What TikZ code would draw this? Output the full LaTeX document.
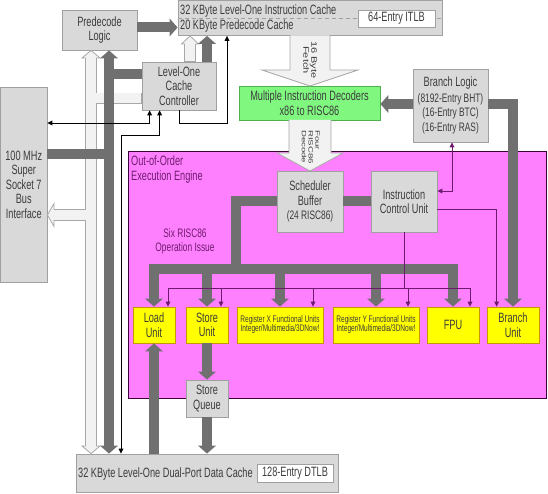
\documentclass[tikz,border=0pt]{standalone}
\usepackage{graphicx}
\usepackage{fontspec}
\setmainfont{Liberation Sans}[FakeStretch=0.68]
\newfontfamily\plainsans{Liberation Sans}
\usetikzlibrary{arrows.meta}
\definecolor{boxfill}{HTML}{D9D9D9}
\definecolor{boxline}{HTML}{A0A0A0}
\definecolor{txt}{HTML}{3C3C3C}
\definecolor{dk}{HTML}{707070}
\definecolor{lt}{HTML}{F2F2F2}
\definecolor{ltline}{HTML}{A8A8A8}
\definecolor{pinkfill}{HTML}{FF80FF}
\definecolor{pinkline}{HTML}{3A003A}
\definecolor{purp}{HTML}{6E1A6E}
\definecolor{yel}{HTML}{FFFF00}
\definecolor{yelline}{HTML}{C89600}
\definecolor{grn}{HTML}{80F880}
\definecolor{grnline}{HTML}{50B050}
\newcommand\blfont{\fontsize{12.3}{10.5}\selectfont}
\begin{document}
\begin{tikzpicture}[x=1pt,y=-1pt,
  every node/.style={text=txt, font=\fontsize{13.5}{14.5}\selectfont, align=center, inner sep=0pt},
  gbox/.style={draw=boxline, fill=boxfill, line width=0.8pt},
  ybox/.style={draw=yelline, fill=yel, line width=0.8pt, minimum height=36pt},
  wbox/.style={draw=boxline, fill=white, line width=0.8pt},
  dtip/.tip={Triangle[width=18pt,length=8pt,line width=0pt]},
  stip/.tip={Triangle[width=5pt,length=5pt,line width=0pt]},
  bus/.style={draw=dk, line width=10pt, line join=miter, -dtip},
  busline/.style={draw=dk, line width=10pt, line join=miter},
  busboth/.style={draw=dk, line width=10pt, line join=miter, dtip-dtip},
  lo/.style={draw=ltline, line width=11.6pt},
  li/.style={draw=lt, line width=10pt},
  lhead/.style={fill=lt, draw=ltline, line width=0.8pt, line join=miter},
  blockarrow/.style={fill=lt, draw=ltline, line width=0.8pt, line join=miter},
  sig/.style={draw=black, line width=0.7pt, -stip},
  sigboth/.style={draw=black, line width=0.7pt, stip-stip},
  psig/.style={draw=purp, line width=0.7pt, -stip},
  psigboth/.style={draw=purp, line width=0.7pt, stip-stip},
  pline/.style={draw=purp, line width=0.7pt},
  rottext/.style={rotate=-90, font=\plainsans\fontsize{11}{11}\selectfont}
]
\useasboundingbox (0,0) rectangle (548,494);

% execution engine background
\node[draw=pinkline, fill=pinkfill, line width=1pt, minimum width=418pt, minimum height=246pt] (ooo) at (337,275) {};
\node[text=purp, align=left, anchor=west] (oootxt) at (131,169.5) {Out-of-Order\\Execution Engine};
\node[text=purp, font=\fontsize{12.3}{14}\selectfont] (six) at (185,241) {Six RISC86\\Operation Issue};

% boxes
\node[gbox, minimum width=75pt, minimum height=40pt] (pre) at (99.5,30) {Predecode\\Logic};
\node[gbox, minimum width=264pt, minimum height=35pt] (icache) at (310,18) {};
\draw[boxline, line width=0.8pt, dash pattern=on 4pt off 3pt] (icache.west |- 0,18.5) -- (icache.east |- 0,18.5);
\node[anchor=base west] (ic1) at (180,15) {32 KByte Level-One Instruction Cache};
\node[anchor=base west] (ic2) at (180,29.5) {20 KByte Predecode Cache};
\node[wbox, minimum width=77pt, minimum height=17pt] (itlb) at (396.5,18.5) {64-Entry ITLB};
\node[gbox, minimum width=74pt, minimum height=48pt] (l1c) at (179,86) {Level-One\\Cache\\Controller};
\node[gbox, minimum width=46.5pt, minimum height=195pt] (bus) at (23.75,184.5) {100 MHz\\Super\\Socket 7\\Bus\\Interface};
\node[draw=grnline, fill=grn, line width=0.8pt, minimum width=141pt, minimum height=34pt] (dec) at (309.5,103) {Multiple Instruction Decoders\\x86 to RISC86};
\node[gbox, minimum width=75pt, minimum height=73pt] (blog) at (450.5,105.5) {Branch Logic\\[1pt]\blfont (8192-Entry BHT)\\\blfont (16-Entry BTC)\\\blfont (16-Entry RAS)};
\node[gbox, minimum width=66pt, minimum height=61pt] (sched) at (310,201.5) {Scheduler\\Buffer\\\fontsize{12.3}{14}\selectfont (24 RISC86)};
\node[gbox, minimum width=66pt, minimum height=61pt] (icu) at (404,201.5) {Instruction\\Control Unit};

\node[ybox, minimum width=42pt] (load) at (154,325) {Load\\Unit};
\node[ybox, minimum width=42pt] (store) at (207,325) {Store\\Unit};
\node[ybox, minimum width=86pt, font=\fontsize{9.6}{9}\selectfont] (regx) at (280,325) {Register X Functional Units\\Integer/Multimedia/3DNow!};
\node[ybox, minimum width=86pt, font=\fontsize{9.6}{9}\selectfont] (regy) at (376,325) {Register Y Functional Units\\Integer/Multimedia/3DNow!};
\node[ybox, minimum width=52pt] (fpu) at (453,325) {FPU};
\node[ybox, minimum width=52pt] (bu) at (513,325) {Branch\\Unit};

\node[gbox, minimum width=42pt, minimum height=37pt] (sq) at (207,398.5) {Store\\Queue};
\node[gbox, minimum width=262pt, minimum height=38pt] (dcache) at (207,473) {};
\node[anchor=west] (dct) at (78,474) {32 KByte Level-One Dual-Port Data Cache};
\node[wbox, minimum width=76pt, minimum height=18pt] (dtlb) at (295,473) {128-Entry DTLB};

% block arrows: fetch and decode
\filldraw[blockarrow] (290,35.5) -- (290,70) -- (262,70) -- (310,86) -- (358,70) -- (330,70) -- (330,35.5);
\node[rottext] (fetchtxt) at (309,60) {\scalebox{1}[0.72]{\begin{tabular}{@{}c@{}}16 Byte\\Fetch\end{tabular}}};
\filldraw[blockarrow] (289,120) -- (289,153) -- (277,153) -- (310,171) -- (343,153) -- (331,153) -- (331,120);
\node[rottext, anchor=west, font=\plainsans\fontsize{9.6}{10.5}\selectfont] (dectxt) at (310,130) {\scalebox{1}[0.65]{\begin{tabular}{@{}l@{}}Four\\RISC86\\Decode\end{tabular}}};

% light (hollow) bus network
\coordinate (lv1) at (91,57.5);
\coordinate (lv2) at (91,446.5);
\coordinate (lh1) at (91,98.5);
\coordinate (lh2) at (91,215);
\draw[lo] (lv1) -- (lv2);
\draw[lo] (lh1) -- (lh1 -| l1c.west);
\draw[lo] (lh2) -- (54,215);
\draw[lo] (190,62) -- (190,44);
\filldraw[lhead] (82,58) -- (pre.south -| 91,0) -- (100,58) -- cycle;
\filldraw[lhead] (82,446) -- (dcache.north -| 91,0) -- (100,446) -- cycle;
\filldraw[lhead] (54,203.5) -- (bus.east |- 0,215) -- (54,226.5) -- cycle;
\filldraw[lhead] (181.5,44) -- (icache.south -| 190,0) -- (198.5,44) -- cycle;
\draw[li] (91,57.2) -- (91,446.8);
\draw[li] (lh1) -- ([xshift=-0.5pt]lh1 -| l1c.west);
\draw[li] (lh2) -- (53.3,215);
\draw[li] (190,61.5) -- (190,43.3);

% dark buses
\draw[bus] ([yshift=2.5pt]pre.east) -- ([yshift=2.5pt]pre.east -| icache.west);
\coordinate (j1) at (109,154);
\coordinate (j2) at (109,74);
\draw[busline] (bus.east |- j1) -- (j1);
\draw[bus] (j1) -- (j1 |- pre.south);
\draw[bus] (j1) -- (j1 |- dcache.north);
\draw[busline] (j2) -- (j2 -| l1c.west);
\draw[bus] ([xshift=28pt]l1c.north) -- ([xshift=28pt]l1c.north |- icache.south);
\draw[bus] ([yshift=1.5pt]blog.west) -- ([yshift=1.5pt]blog.west -| dec.east);
\draw[bus] ([yshift=1.5pt]blog.east) -| (bu.north);

% scheduler issue buses
\draw[busline] (icu.west) -- (sched.east);
\draw[busline] (sched.west) -| (236,269);
\draw[busboth] (load.north) -- (load.north |- 0,269) -- (fpu.north |- 0,269) -- (fpu.north);
\draw[bus] (store.north |- 0,269) -- (store.north);
\draw[bus] (regx.north |- 0,269) -- (regx.north);
\draw[bus] (regy.north |- 0,269) -- (regy.north);

% data paths
\draw[bus] (load.south |- dcache.north) -- (load.south);
\draw[bus] (store.south) -- (sq.north);
\draw[bus] (sq.south) -- (sq.south |- dcache.north);

% thin control lines
\draw[sigboth] ([xshift=8pt]l1c.south west) |- (bus.east |- 0,123);
\draw[sigboth] ([xshift=18pt]l1c.south west) -- ([xshift=18pt]l1c.south west |- 0,135) -| (dcache.north -| 121,0);
\draw[sig] (l1c.south) |- (227,123) -- (icache.south -| 227,0);

% purple control lines
\draw[psigboth] ([xshift=1.5pt]blog.south) |- ([yshift=10.5pt]icu.east);
\draw[psig] ([yshift=-7.5pt]icu.east) -| ([xshift=10pt]bu.north west);
\draw[pline] (icu.south) -- (icu.south |- 0,288);
\coordinate (c1) at (168,288);
\coordinate (c2) at (221,288);
\coordinate (c3) at (313,288);
\coordinate (c4) at (408,288);
\coordinate (c5) at (470,288);
\draw[pline] (c1) -- (c5);
\draw[psig] (c1) -- (c1 |- load.north);
\draw[psig] (c2) -- (c2 |- store.north);
\draw[psig] (c3) -- (c3 |- regx.north);
\draw[psig] (c4) -- (c4 |- regy.north);
\draw[psig] (c5) -- (c5 |- fpu.north);
\end{tikzpicture}
\end{document}
